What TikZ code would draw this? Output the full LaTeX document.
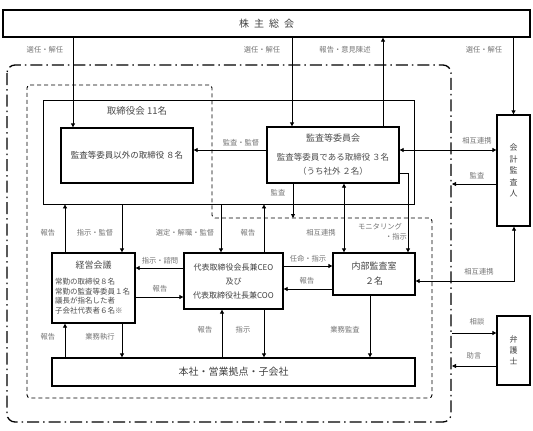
\documentclass[tikz,border=0pt]{standalone}
\usepackage{fontspec}
\setmainfont{Noto Sans CJK JP}
\usetikzlibrary{arrows.meta}
\begin{document}
\begin{tikzpicture}[x=1pt,y=-1pt,
  box/.style={draw=black, line width=1.3pt, inner sep=0pt, text=black!75},
  txt/.style={inner sep=0pt, text=black!70},
  lbl/.style={font=\fontsize{7.3}{8}\selectfont, text=black!55, inner sep=0pt},
  arr/.style={line width=0.8pt, -{Triangle[length=4pt,width=4pt]}},
  darr/.style={line width=0.8pt, {Triangle[length=4pt,width=4pt]}-{Triangle[length=4pt,width=4pt]}},
]
\useasboundingbox (0,0) rectangle (533,431);

% frames
\draw[line width=1.3pt, dash pattern=on 12pt off 4pt on 1.5pt off 4pt, rounded corners=8pt]
  (7,65) rectangle (451,422);
\draw[line width=0.9pt, dash pattern=on 4pt off 3pt, rounded corners=3pt]
  (27,85) -- (212,85) -- (212,218) -- (432,218) -- (432,398) -- (27,398) -- cycle;

% boxes
\node[box, minimum width=527pt, minimum height=27pt, font=\fontsize{10}{12}\selectfont] (sh) at (266.5,23.5)
  {株\hspace{5pt}主\hspace{5pt}総\hspace{5pt}会};
\node[draw, line width=0.8pt, minimum width=371pt, minimum height=104pt, inner sep=0pt] (board) at (228.5,152) {};
\node[txt, font=\fontsize{9.5}{11}\selectfont] (boardt) at (137,111) {取締役会\ 11名};
\node[box, minimum width=132pt, minimum height=55pt, font=\fontsize{8.5}{10}\selectfont] (dir8) at (127,155.5)
  {監査等委員以外の取締役\ ８名};
\node[box, minimum width=132pt, minimum height=56pt] (ac) at (333,155) {};
\node[txt, font=\fontsize{9}{10}\selectfont] (act1) at (333,138) {監査等委員会};
\node[txt, font=\fontsize{8.5}{10}\selectfont] (act2) at (333,157) {監査等委員である取締役\ ３名};
\node[txt, font=\fontsize{8.5}{10}\selectfont] (act3) at (333,171) {（うち社外\ ２名）};
\node[box, minimum width=33pt, minimum height=111pt, align=center, font=\fontsize{8}{11.5}\selectfont] (aud) at (513.5,170.5)
  {会\\計\\監\\査\\人};
\node[box, minimum width=33pt, minimum height=69pt, align=center, font=\fontsize{8}{11}\selectfont] (law) at (513.5,350.5)
  {弁\\護\\士};
\node[box, minimum width=83pt, minimum height=70pt] (mgmt) at (93.5,288) {};
\node[txt, font=\fontsize{9}{10}\selectfont] (mgt0) at (93.5,265) {経営会議};
\node[txt, anchor=west, font=\fontsize{7.5}{8}\selectfont] (mgt1) at (55,282) {常勤の取締役８名};
\node[txt, anchor=west, font=\fontsize{7.5}{8}\selectfont] (mgt2) at (55,291.5) {常勤の監査等委員１名};
\node[txt, anchor=west, font=\fontsize{7.5}{8}\selectfont] (mgt3) at (55,301) {議長が指名した者};
\node[txt, anchor=west, font=\fontsize{7.5}{8}\selectfont] (mgt4) at (55,310.5) {子会社代表者６名※};
\node[box, minimum width=99pt, minimum height=56pt, align=center, font=\fontsize{8}{14}\selectfont] (ceo) at (233.5,281)
  {代表取締役会長兼CEO\\及び\\代表取締役社長兼COO};
\node[box, minimum width=82pt, minimum height=42pt, align=center, font=\fontsize{9}{15}\selectfont] (ia) at (374,274)
  {内部監査室\\２名};
\node[box, minimum width=363pt, minimum height=28pt, font=\fontsize{10}{12}\selectfont] (hq) at (233.5,372)
  {本社・営業拠点・子会社};

% free ends
\coordinate (fA) at (452,184);
\coordinate (fB) at (293,218);
\coordinate (fC) at (452,333);
\coordinate (fD) at (452,366);
\coordinate (bendM) at (408,173);
\coordinate (bendR) at (514,281);

% connectors from shareholders
\draw[arr] (73,0 |- sh.south) -- (73,0 |- dir8.north);
\draw[arr] (292,0 |- sh.south) -- (292,0 |- ac.north);
\draw[arr] (383,0 |- ac.north) -- (383,0 |- sh.south);
\draw[arr] (sh.south -| aud.north) -- (aud.north);
\node[lbl] at (45,50) {選任・解任};
\node[lbl] at (262,50) {選任・解任};
\node[lbl] at (345,50) {報告・意見陳述};
\node[lbl] at (484,50) {選任・解任};

% audit committee
\draw[arr] (0,150 -| ac.west) -- (0,150 -| dir8.east);
\node[lbl] at (241,143) {監査・監督};
\draw[darr] (0,150 -| ac.east) -- (0,150 -| aud.west);
\node[lbl] at (477,141) {相互連携};
\draw[arr] (0,184 -| aud.west) -- (fA);
\node[lbl] at (477,176) {監査};
\draw[arr] (293,0 |- ac.south) -- (fB);
\node[lbl] at (278,193) {監査};
\draw[arr] (bendM -| ac.east) -- (bendM) -- (bendM |- ia.north);
\node[lbl] at (380,227) {モニタリング};
\node[lbl] at (396,237) {・指示};
\draw[darr] (344,0 |- ac.south) -- (344,0 |- ia.north);
\node[lbl] at (321,233) {相互連携};

% board <-> management / ceo
\draw[arr] (122,0 |- board.south) -- (122,0 |- mgmt.north);
\node[lbl] at (95,233) {指示・監督};
\draw[arr] (65,0 |- mgmt.north) -- (65,0 |- board.south);
\node[lbl] at (48,233) {報告};
\draw[arr] (221,0 |- board.south) -- (221,0 |- ceo.north);
\node[lbl] at (185,233) {選定・解職・監督};
\draw[arr] (264,0 |- ceo.north) -- (264,0 |- board.south);
\node[lbl] at (248,233) {報告};

% ceo <-> management / internal audit
\draw[arr] (0,268 -| ceo.west) -- (0,268 -| mgmt.east);
\node[lbl] at (160,261) {指示・諮問};
\draw[arr] (0,297 -| mgmt.east) -- (0,297 -| ceo.west);
\node[lbl] at (160,289) {報告};
\draw[arr] (0,266 -| ceo.east) -- (0,266 -| ia.west);
\node[lbl] at (308,259) {任命・指示};
\draw[arr] (0,289 -| ia.west) -- (0,289 -| ceo.east);
\node[lbl] at (307,281) {報告};
\draw[darr] (aud.south -| bendR) -- (bendR) -- (bendR -| ia.east);
\node[lbl] at (479,272) {相互連携};

% to headquarters
\draw[arr] (122,0 |- mgmt.south) -- (122,0 |- hq.north);
\node[lbl] at (100,337) {業務執行};
\draw[arr] (65,0 |- hq.north) -- (65,0 |- mgmt.south);
\node[lbl] at (48,337) {報告};
\draw[arr] (222,0 |- hq.north) -- (222,0 |- ceo.south);
\node[lbl] at (205,330) {報告};
\draw[arr] (264,0 |- ceo.south) -- (264,0 |- hq.north);
\node[lbl] at (243,330) {指示};
\draw[arr] (370,0 |- ia.south) -- (370,0 |- hq.north);
\node[lbl] at (345,330) {業務監査};

% lawyer
\draw[arr] (fC) -- (fC -| law.west);
\node[lbl] at (477,322) {相談};
\draw[arr] (fD -| law.west) -- (fD);
\node[lbl] at (474,356) {助言};
\end{tikzpicture}
\end{document}
